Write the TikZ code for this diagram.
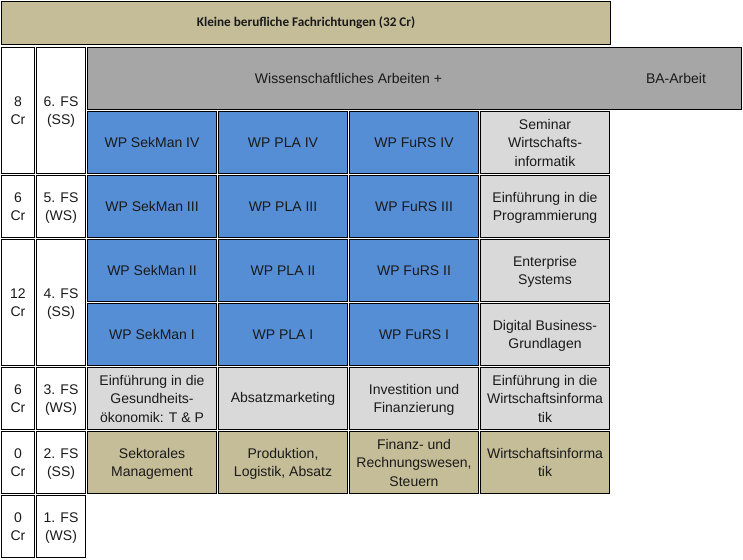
\documentclass[tikz,border=0pt]{standalone}
\usepackage{fontspec}
\setmainfont{Liberation Sans}
\newfontfamily\titlefont{Carlito}
\definecolor{tanc}{HTML}{C4BD97}
\definecolor{bluec}{HTML}{558ED5}
\definecolor{grayc}{HTML}{A6A6A6}
\definecolor{lgrayc}{HTML}{D9D9D9}
\definecolor{txt}{HTML}{1A1A1A}
\newcommand\mltext[1]{\raisebox{-1.5pt}[\height][\depth]{\begin{tabular}{@{}c@{}}#1\end{tabular}}}
\begin{document}
\begin{tikzpicture}[x=1pt,y=-1pt,
  cell/.style={draw=black,line width=1pt,anchor=north west,inner sep=0pt,outer sep=0pt,
    align=center,text=txt,font=\fontsize{14}{18.5}\selectfont},
  one/.style={minimum height=62pt},
  two/.style={minimum height=126pt},
  crcol/.style={minimum width=33pt},
  fscol/.style={minimum width=49pt},
  wcol/.style={minimum width=129pt},
  label/.style={inner sep=0pt,text=txt,font=\fontsize{14}{18.5}\selectfont},
  tancell/.style={cell,wcol,one,fill=tanc},
  bluecell/.style={cell,wcol,one,fill=bluec},
  lgcell/.style={cell,wcol,one,fill=lgrayc}]
\useasboundingbox (0,0) rectangle (743,559);
% title
\node[cell,fill=tanc,minimum width=609pt,minimum height=43pt,font=\titlefont\bfseries\fontsize{13.2}{16}\selectfont] (title) at (1.5,1.5) {Kleine berufliche Fachrichtungen (32 Cr)};
% left columns
\node[cell,crcol,two] (cr6) at (1.5,47.5) {\mltext{8\\Cr}};
\node[cell,fscol,two] (fs6) at (36.5,47.5) {\mltext{6. FS\\(SS)}};
\node[cell,crcol,one] (cr5) at (1.5,175.5) {\mltext{6\\Cr}};
\node[cell,fscol,one] (fs5) at (36.5,175.5) {\mltext{5. FS\\(WS)}};
\node[cell,crcol,two] (cr4) at (1.5,239.5) {\mltext{12\\Cr}};
\node[cell,fscol,two] (fs4) at (36.5,239.5) {\mltext{4. FS\\(SS)}};
\node[cell,crcol,one] (cr3) at (1.5,367.5) {\mltext{6\\Cr}};
\node[cell,fscol,one] (fs3) at (36.5,367.5) {\mltext{3. FS\\(WS)}};
\node[cell,crcol,one] (cr2) at (1.5,431.5) {\mltext{0\\Cr}};
\node[cell,fscol,one] (fs2) at (36.5,431.5) {\mltext{2. FS\\(SS)}};
\node[cell,crcol,one] (cr1) at (1.5,495.5) {\mltext{0\\Cr}};
\node[cell,fscol,one] (fs1) at (36.5,495.5) {\mltext{1. FS\\(WS)}};
% gray box
\node[cell,fill=grayc,minimum width=654pt,minimum height=62pt] (ba) at (87.5,47.5) {};
\node[label] (wiss) at (348.5,78.5) {Wissenschaftliches Arbeiten +};
\node[label] (baarb) at (676,78.5) {BA-Arbeit};
% row IV
\node[bluecell] (a1) at (87.5,111.5) {WP SekMan IV};
\node[bluecell] (a2) at (218.5,111.5) {WP PLA IV};
\node[bluecell] (a3) at (349.5,111.5) {WP FuRS IV};
\node[lgcell] (a4) at (480.5,111.5) {\mltext{Seminar\\Wirtschafts-\\informatik}};
% row III
\node[bluecell] (b1) at (87.5,175.5) {WP SekMan III};
\node[bluecell] (b2) at (218.5,175.5) {WP PLA III};
\node[bluecell] (b3) at (349.5,175.5) {WP FuRS III};
\node[lgcell] (b4) at (480.5,175.5) {\mltext{Einführung in die\\Programmierung}};
% row II
\node[bluecell] (c1) at (87.5,239.5) {WP SekMan II};
\node[bluecell] (c2) at (218.5,239.5) {WP PLA II};
\node[bluecell] (c3) at (349.5,239.5) {WP FuRS II};
\node[lgcell] (c4) at (480.5,239.5) {\mltext{Enterprise\\Systems}};
% row I
\node[bluecell] (d1) at (87.5,303.5) {WP SekMan I};
\node[bluecell] (d2) at (218.5,303.5) {WP PLA I};
\node[bluecell] (d3) at (349.5,303.5) {WP FuRS I};
\node[lgcell] (d4) at (480.5,303.5) {\mltext{Digital Business-\\Grundlagen}};
% 3. FS
\node[lgcell] (e1) at (87.5,367.5) {\mltext{Einführung in die\\Gesundheits-\\ökonomik: T \& P}};
\node[lgcell] (e2) at (218.5,367.5) {Absatzmarketing};
\node[lgcell] (e3) at (349.5,367.5) {\mltext{Investition und\\Finanzierung}};
\node[lgcell] (e4) at (480.5,367.5) {\mltext{Einführung in die\\Wirtschaftsinforma\\tik}};
% 2. FS
\node[tancell] (f1) at (87.5,431.5) {\mltext{Sektorales\\Management}};
\node[tancell] (f2) at (218.5,431.5) {\mltext{Produktion,\\Logistik, Absatz}};
\node[tancell] (f3) at (349.5,431.5) {\mltext{Finanz- und\\Rechnungswesen,\\Steuern}};
\node[tancell] (f4) at (480.5,431.5) {\mltext{Wirtschaftsinforma\\tik}};
\end{tikzpicture}
\end{document}
